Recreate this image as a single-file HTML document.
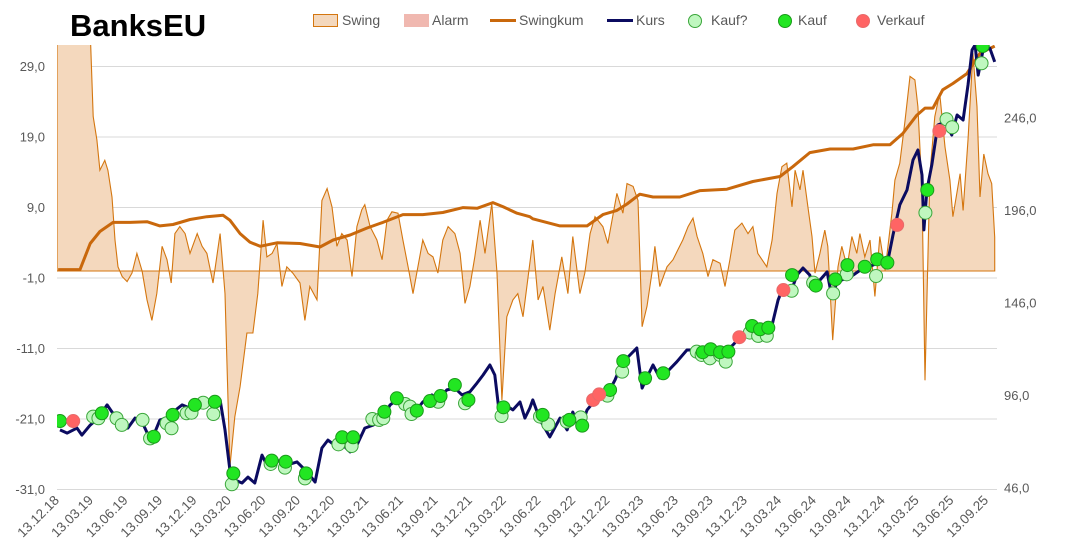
<!DOCTYPE html>
<html><head><meta charset="utf-8"><style>
body{margin:0;background:#fff;}
svg{display:block;font-family:"Liberation Sans",sans-serif;}
</style></head><body>
<svg id="chart" width="1067" height="557" viewBox="0 0 1067 557"></svg>
<script>
// ---- data ----
const swingDays=[0,3,82,88,96,106,114,127,135,146,154,162,173,186,199,212,226,239,252,265,279,292,303,313,326,340,353,372,385,398,414,433,446,459,472,486,504,520,533,547,557,571,584,597,610,626,645,658,671,690,703,717,730,743,756,770,783,796,809,817,831,849,863,876,889,905,918,932,945,958,971,985,998,1011,1024,1038,1056,1070,1083,1096,1109,1123,1136,1154,1168,1181,1194,1210,1223,1237,1263,1277,1290,1308,1322,1340,1356,1369,1388,1401,1415,1428,1449,1462,1486,1502,1513,1529,1542,1553,1566,1579,1587,1600,1619,1635,1648,1661,1675,1688,1699,1714,1728,1741,1760,1773,1786,1799,1818,1834,1847,1860,1884,1898,1911,1924,1937,1951,1959,1972,1980,1993,2004,2012,2025,2038,2046,2059,2073,2083,2097,2110,2123,2131,2144,2158,2171,2184,2198,2216,2224,2237,2251,2264,2277,2285,2296,2304,2317,2330,2343,2357,2370,2378,2397,2405,2418,2431,2442,2450,2460,2471,2481,2489];
const swingVals=[34,34,34,34,21.9,18.6,14.3,15.7,14.3,10.5,4.4,0.6,-0.8,-1.5,-0.3,2.5,0,-4.1,-7,-3.2,3.5,1.6,-1.7,5.3,6.3,5.3,2.5,5.3,3.5,2.5,-1.7,5.3,-3.2,-27.8,-20.7,-16.4,-8.8,-8.8,-3.2,7.2,2,2.5,3.9,-2.2,0.6,-0.3,-1.7,-7,-2.2,-4.1,10,11.7,9.1,3.5,5.3,4.4,-0.8,6.3,8.7,9.4,6.3,4.4,1.6,7.2,8.4,8.2,4.4,0.6,-3.2,0.6,4.4,2.5,2,-0.3,4.4,6.3,5.3,2.5,-4.6,-2.2,2,7.2,2.5,9.6,-0.3,-18.3,-6.5,-4.1,-3.2,-6.5,4.4,-4.1,-2.2,-8.4,-3.2,2,-3.2,4.9,-3.2,-0.3,5.3,7.7,6.3,3.9,11,8.2,12.4,12,10,-7.9,-5,-0.3,3.5,-2.2,0.6,1.6,3,4.4,6.3,7.5,4.9,2.5,-0.8,1.6,1.1,-2.2,1.6,5.8,6.8,5.3,6.3,2.5,0.6,4.4,11,14.8,15.3,9.1,14.3,11.5,14.3,9.1,4.9,-0.3,2.5,5.8,3.5,-9.8,0.6,3.5,0.6,4.9,2.5,5.3,2,4.4,-3.6,4.9,0.1,8.2,12.9,15.3,21.4,27.6,27.1,23.3,11.5,-15.5,13.8,21.9,25.2,17.6,12.9,7.7,13.8,8.6,18.6,30.9,23.3,10.5,16.6,13.8,12.4,4.8];
const kumDays=[3,61,88,114,149,194,239,273,308,353,398,441,459,486,512,539,584,645,698,733,778,823,865,918,971,1024,1078,1115,1157,1184,1221,1255,1263,1335,1407,1449,1486,1513,1547,1582,1653,1707,1778,1847,1919,1953,1998,2052,2113,2166,2211,2245,2282,2304,2325,2351,2378,2415,2450,2489];
const kumVals=[0.2,0.2,3.9,5.6,6.9,6.9,7.0,6.4,6.6,7.3,7.7,7.9,7.2,5.3,4.1,3.5,4.0,3.9,3.4,4.4,5.1,6.1,6.9,8.0,8.0,8.3,9.0,8.9,9.7,9.1,8.2,7.7,7.4,6.4,6.4,8.0,8.6,9.5,10.9,10.5,10.5,11.4,11.6,12.7,13.4,14.8,16.8,17.3,17.3,17.9,17.9,19.5,22.1,23.1,23.1,25.7,26.6,28.0,30.9,31.9];
const kursDays=[8,27,53,66,88,109,133,146,167,188,207,226,242,260,273,292,308,332,353,374,398,419,433,446,459,472,491,507,525,544,557,584,610,637,664,685,703,719,743,759,778,796,817,839,865,884,902,929,950,971,995,1011,1035,1056,1075,1096,1115,1131,1149,1162,1176,1189,1210,1229,1242,1255,1263,1282,1308,1335,1354,1369,1388,1407,1433,1460,1481,1500,1521,1539,1553,1569,1582,1600,1619,1645,1672,1688,1725,1760,1794,1831,1866,1898,1914,1927,1945,1964,1980,1998,2006,2025,2044,2057,2070,2097,2113,2140,2166,2184,2203,2219,2237,2256,2272,2285,2296,2301,2309,2322,2338,2357,2375,2389,2405,2418,2429,2437,2445,2458,2476,2489];
const kursVals=[77.4,75.7,78.4,74.6,80,83.8,90.9,87.1,82.8,78.4,83.8,81.7,74.6,76.3,82.8,83.8,87.1,90.9,89.2,92.5,90.9,94.6,93.6,77.4,55.7,50.3,48.7,51.9,48.7,63.8,58.4,61.1,58.4,60.1,54.6,49.2,67.6,71.9,68.2,69.2,65.5,69.2,78.4,80,83.8,90.9,93.6,90.9,87.1,92.5,96.3,93.6,99,100,96.3,98,102.8,107.1,112.5,107.1,82.8,90.9,88.2,92.5,83.8,89.2,93.6,82.8,73.6,83.8,77.4,87.1,77.4,88.2,94.6,96.3,104.4,113.6,117.9,121.7,100,107.1,112.5,105.5,108.7,114.2,120.6,120.6,120.6,117.9,123.3,131.4,132.5,134.1,147.6,154.1,150.3,161.1,164.9,161.1,153,158.4,162.8,148.7,157.4,159.5,161.1,164.9,166.5,168.2,166.5,182.8,199,207.1,223.3,228.7,215.2,185.5,207.1,220.6,242.2,243.8,236.8,247.6,244.9,263.8,282.8,285.5,269.2,282.8,283.8,276.3];
const kaufQDays=[96,110,158,172,227,247,291,304,344,357,388,415,464,567,605,658,747,782,837,855,866,924,937,941,1012,1083,1180,1282,1304,1353,1390,1461,1500,1698,1711,1733,1760,1775,1839,1861,1884,1950,2007,2060,2096,2174,2305,2361,2376,2454];
const kaufQVals=[84.6,83.7,83.7,80.1,82.8,72.8,81,78.3,86.4,86.7,92.1,86,48,59,57,51.2,69.6,68.7,83.3,82.8,83.7,91.4,90,86,92.6,91.8,84.9,84.6,80.4,81.9,84.2,95.9,108.9,119.7,117.9,116.1,117.9,114.3,130,128.2,128.3,152.6,157,151.2,161.5,160.6,194.8,245.3,241,275.6];
const kaufDays=[8,119,257,307,366,419,468,570,607,661,757,786,869,902,955,990,1018,1056,1092,1185,1289,1360,1394,1468,1503,1561,1609,1714,1735,1760,1782,1845,1866,1888,1951,2014,2066,2098,2144,2177,2204,2310,2457];
const kaufVals=[82.2,86.4,73.7,85.5,90.9,92.6,53.9,60.8,60.2,53.9,73.4,73.4,87.2,94.5,87.8,93,95.7,101.7,93.6,89.6,85.5,82.8,79.7,99,114.6,105.3,108,119.4,121,119.4,119.7,133.6,131.8,132.6,161.1,155.4,158.8,166.5,165.6,169.6,167.8,207.1,284.9];
const verkaufDays=[43,1423,1439,1811,1928,2230,2342];
const verkaufVals=[82.2,93.6,96.6,127.5,153,188.2,239];
const leftTicks=[29,19,9,-1,-11,-21,-31];
const rightTicks=[246,196,146,96,46];
const dateLabels=["13.12.18","13.03.19","13.06.19","13.09.19","13.12.19","13.03.20","13.06.20","13.09.20","13.12.20","13.03.21","13.06.21","13.09.21","13.12.21","13.03.22","13.06.22","13.09.22","13.12.22","13.03.23","13.06.23","13.09.23","13.12.23","13.03.24","13.06.24","13.09.24","13.12.24","13.03.25","13.06.25","13.09.25"];

// ---- scales ----
const X0=57,X1=997,DAYS=2495;
const xS=d=>X0+d*(X1-X0)/DAYS;
const yL=v=>271-v*7.05;
const yR=v=>488-(v-46)*1.85;
const NS="http://www.w3.org/2000/svg";
const svg=document.getElementById('chart');
function mk(tag,attrs,parent){const e=document.createElementNS(NS,tag);for(const k in attrs)e.setAttribute(k,attrs[k]);(parent||svg).appendChild(e);return e;}
function dayOf(s){const p=s.split('.');const d=Date.UTC(2000+ +p[2],+p[1]-1,+p[0]);return (d-Date.UTC(2018,11,13))/86400000;}

const defs=mk('defs',{});
const cp=mk('clipPath',{id:'plotclip'},defs);
mk('rect',{x:X0,y:45,width:X1-X0,height:450},cp);

const grid=mk('g',{});


leftTicks.forEach(v=>{
  const l=mk('line',{x1:X0,x2:X1,y1:yL(v),y2:yL(v),stroke:'#d9d9d9','stroke-width':1},grid);
  
  
  const t=mk('text',{x:45,y:yL(v)+4.5,'text-anchor':'end','font-size':13,fill:'#595959'});
  t.textContent=v.toFixed(1).replace('.',',');
  
  
});
rightTicks.forEach(v=>{
  const t=mk('text',{x:1004,y:yR(v)+4.5,'font-size':13,fill:'#595959'});
  t.textContent=v.toFixed(1).replace('.',',');
  
  
});
dateLabels.forEach(s=>{
  const x=xS(dayOf(s))+3;
  const t=mk('text',{x:x,y:501,'text-anchor':'end','font-size':13.5,fill:'#595959',transform:`rotate(-45 ${x} 501)`});
  t.textContent=s;
  
  
});

const pg=mk('g',{'clip-path':'url(#plotclip)'});
let d='M'+xS(swingDays[0])+','+yL(0);
swingDays.forEach((dd,i)=>{d+=' L'+xS(dd).toFixed(1)+','+yL(swingVals[i]).toFixed(1);});
d+=' L'+xS(swingDays[swingDays.length-1])+','+yL(0)+' Z';
const sa=mk('path',{d:d,fill:'#f4d8bd',stroke:'#d4760f','stroke-width':1.1},pg);



function line(days,vals,sc,col,w,name){
  const p=mk('path',{d:days.map((dd,i)=>(i?'L':'M')+xS(dd).toFixed(1)+','+sc(vals[i]).toFixed(1)).join(' '),fill:'none',stroke:col,'stroke-width':w,'stroke-linejoin':'round'},pg);
  
  
}
line(kumDays,kumVals,yL,'#c9680c',3,'swingkum-line');
line(kursDays,kursVals,yR,'#0b0b60',3,'kurs-line');

function markers(days,vals,fill,stroke,name){
  days.forEach((dd,i)=>{
    const c=mk('circle',{cx:xS(dd),cy:yR(vals[i]),r:6.5,fill:fill,stroke:stroke,'stroke-width':1},pg);
    
    
  });
}
markers(kaufQDays,kaufQVals,'#bff7bf','#3aa63a','kauf-q-marker');
markers(kaufDays,kaufVals,'#22e622','#1a9a1a','kauf-marker');
markers(verkaufDays,verkaufVals,'#ff6464','#e86a6a','verkauf-marker');
</script>
<div style="position:absolute;left:0;top:0;width:1067px;height:557px;pointer-events:none;font-family:'Liberation Sans',sans-serif;">
  <div style="position:absolute;left:70px;top:8px;font-size:31px;font-weight:bold;color:#000;">BanksEU</div>
  <div style="position:absolute;left:0;top:12px;font-size:14px;color:#595959;">
    <div style="position:absolute;left:313px;top:2px;width:25px;height:13px;background:#f4d8bd;border:1px solid #d4760f;box-sizing:border-box;"></div>
    <span style="position:absolute;left:342px;top:0;white-space:nowrap;">Swing</span>
    <div style="position:absolute;left:404px;top:2px;width:25px;height:13px;background:#f0b8b0;"></div>
    <span style="position:absolute;left:432px;top:0;white-space:nowrap;">Alarm</span>
    <div style="position:absolute;left:490px;top:7px;width:26px;height:3px;background:#c9680c;"></div>
    <span style="position:absolute;left:519px;top:0;white-space:nowrap;">Swingkum</span>
    <div style="position:absolute;left:607px;top:7px;width:26px;height:3px;background:#0b0b60;"></div>
    <span style="position:absolute;left:636px;top:0;white-space:nowrap;">Kurs</span>
    <div style="position:absolute;left:688px;top:2px;width:12px;height:12px;border-radius:50%;background:#bff7bf;border:1px solid #3aa63a;"></div>
    <span style="position:absolute;left:711px;top:0;white-space:nowrap;">Kauf?</span>
    <div style="position:absolute;left:778px;top:2px;width:12px;height:12px;border-radius:50%;background:#22e622;border:1px solid #1a9a1a;"></div>
    <span style="position:absolute;left:798px;top:0;white-space:nowrap;">Kauf</span>
    <div style="position:absolute;left:856px;top:2px;width:12px;height:12px;border-radius:50%;background:#ff6464;border:1px solid #e86a6a;"></div>
    <span style="position:absolute;left:877px;top:0;white-space:nowrap;">Verkauf</span>
  </div>
</div>
</body></html>
